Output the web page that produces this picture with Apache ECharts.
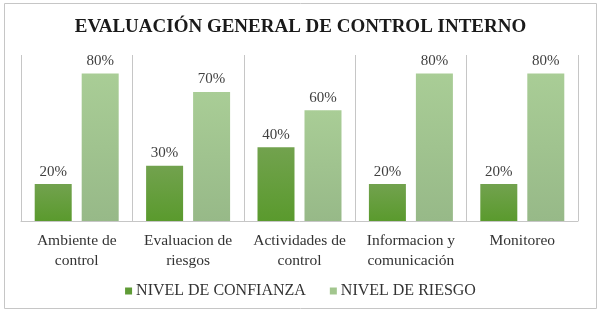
<!DOCTYPE html>
<html>
<head>
<meta charset="utf-8">
<script src="https://cdn.jsdelivr.net/npm/echarts@6/dist/echarts.min.js"></script>
<style>
  html, body { margin: 0; padding: 0; background: #fff; }
  #chart { width: 601px; height: 313px; }
</style>
</head>
<body>
<div id="chart"></div>
<script>
const categories = ["Ambiente de\ncontrol", "Evaluacion de\nriesgos", "Actividades de\ncontrol", "Informacion y\ncomunicación", "Monitoreo"];
const confianza = [0.2, 0.3, 0.4, 0.2, 0.2];
const riesgo = [0.8, 0.7, 0.6, 0.8, 0.8];

const serif = "'Liberation Serif', 'Times New Roman', serif";

function grad(top, bottom) {
    return new echarts.graphic.LinearGradient(0, 0, 0, 1, [
        { offset: 0, color: top },
        { offset: 1, color: bottom }
    ]);
}

let chart = echarts.init(document.getElementById("chart"));
chart.setOption({
    animation: false,
    title: {
        text: "EVALUACIÓN GENERAL DE CONTROL INTERNO",
        left: "center",
        top: 13,
        textStyle: { fontFamily: serif, fontSize: 19, fontWeight: "bold", color: "#1a1a1a" }
    },
    graphic: [{
        type: "rect",
        shape: { x: 4.5, y: 3.5, width: 592, height: 305 },
        style: { fill: null, stroke: "#c6c6c6", lineWidth: 1 },
        silent: true
    }],
    legend: {
        bottom: 9,
        left: "center",
        itemWidth: 7,
        itemHeight: 7,
        itemGap: 24,
        icon: "rect",
        textStyle: { fontFamily: serif, fontSize: 16, color: "#333333", padding: [0, 0, 0, -1] },
        data: [
            { name: "NIVEL DE CONFIANZA", itemStyle: { color: "#5f9b36" } },
            { name: "NIVEL DE RIESGO", itemStyle: { color: "#a2c68e" } }
        ]
    },
    grid: { left: 21, right: 23, top: 55, bottom: 92 },
    xAxis: {
        type: "category",
        data: categories,
        axisLine: { lineStyle: { color: "#c6c6c6" } },
        axisTick: { show: false },
        splitLine: { show: true, lineStyle: { color: "#c6c6c6" } },
        axisLabel: {
            fontFamily: serif, fontSize: 15.5, color: "#333333",
            lineHeight: 20, margin: 10, interval: 0
        }
    },
    yAxis: {
        type: "value",
        min: 0,
        max: 0.9,
        show: false
    },
    series: [{
        name: "NIVEL DE CONFIANZA",
        type: "bar",
        data: confianza,
        barWidth: 37,
        barGap: "27%",
        itemStyle: { color: grad("#72a24e", "#5a9a2d") },
        label: {
            show: true, position: "top", distance: 5,
            fontFamily: serif, fontSize: 15, color: "#404040",
            formatter: p => Math.round(p.value * 100) + "%"
        }
    }, {
        name: "NIVEL DE RIESGO",
        type: "bar",
        data: riesgo,
        barWidth: 37,
        itemStyle: { color: grad("#a9cd96", "#97b988") },
        label: {
            show: true, position: "top", distance: 5,
            fontFamily: serif, fontSize: 15, color: "#404040",
            formatter: p => Math.round(p.value * 100) + "%"
        }
    }]
});
</script>
</body>
</html>
